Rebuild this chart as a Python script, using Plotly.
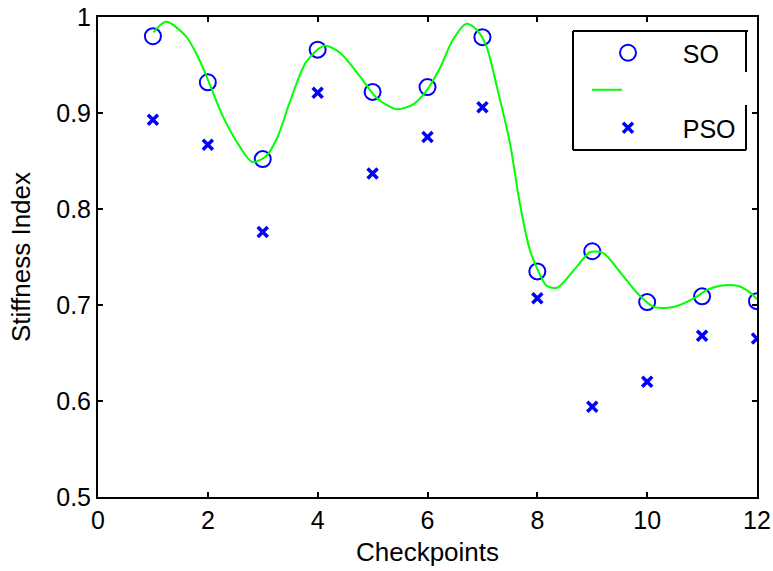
import plotly.graph_objects as go

# ---- data ----
checkpoints = [1, 2, 3, 4, 5, 6, 7, 8, 9, 10, 11, 12]
so_values = [0.980, 0.932, 0.852, 0.966, 0.922, 0.927, 0.979, 0.735, 0.756, 0.703, 0.709, 0.704]
pso_values = [0.893, 0.867, 0.776, 0.921, 0.837, 0.875, 0.906, 0.707, 0.594, 0.620, 0.668, 0.665]

curve_x = [1.01, 1.24, 1.6, 1.84, 1.97, 2.27, 2.57, 2.81, 3.06, 3.27, 3.49, 3.79, 4.12, 4.40,
           4.76, 5.07, 5.43, 5.74, 5.98, 6.22, 6.47, 6.71, 6.89, 7.07, 7.26, 7.5, 7.68, 7.86,
           8.02, 8.17, 8.36, 8.72, 8.96, 9.20, 9.51, 9.81, 10.12, 10.48, 10.85, 11.1, 11.33,
           11.64, 11.85, 12.0]
curve_y = [0.984, 0.995, 0.980, 0.956, 0.939, 0.897, 0.866, 0.849, 0.855, 0.875, 0.911, 0.953,
           0.970, 0.963, 0.939, 0.916, 0.904, 0.909, 0.923, 0.946, 0.977, 0.993, 0.987, 0.970,
           0.928, 0.869, 0.806, 0.758, 0.735, 0.720, 0.718, 0.740, 0.755, 0.754, 0.734, 0.713,
           0.698, 0.698, 0.707, 0.716, 0.720, 0.720, 0.714, 0.706]

x_ticks = [0, 2, 4, 6, 8, 10, 12]
y_ticks = [0.5, 0.6, 0.7, 0.8, 0.9, 1.0]
y_tick_text = ["0.5", "0.6", "0.7", "0.8", "0.9", "1"]

BLUE = "#0000FF"
GREEN = "#00FF00"
FONT = "Arial, 'Liberation Sans', Helvetica, sans-serif"

fig = go.Figure()
fig.add_trace(go.Scatter(
    x=checkpoints, y=so_values, mode="markers", name="\u00a0\u00a0\u00a0\u00a0\u00a0SO", legend="legend",
    marker=dict(symbol="circle-open", size=16, color=BLUE, line=dict(width=2, color=BLUE)),
))
fig.add_trace(go.Scatter(
    x=curve_x, y=curve_y, mode="lines", name=" ", legend="legend2",
    line=dict(color=GREEN, width=2, shape="spline", smoothing=0.8),
))
fig.add_trace(go.Scatter(
    x=checkpoints, y=pso_values, mode="markers", name="\u00a0\u00a0\u00a0\u00a0\u00a0PSO", legend="legend3",
    marker=dict(symbol="x-thin-open", size=10, color=BLUE, line=dict(width=3.5, color=BLUE)),
))

W, H = 773, 571
L, R, T, B = 98, 16, 17, 74
pw, ph = W - L - R, H - T - B

def px(xp):
    return (xp - L) / pw

def py(yp):
    return (H - B - yp) / ph

axis_common = dict(
    showline=True, linecolor="black", linewidth=2, mirror="ticks",
    ticks="inside", ticklen=5, tickwidth=2, tickcolor="black",
    showgrid=False, zeroline=False, automargin=False,
    tickfont=dict(family=FONT, size=25, color="black"),
)

leg_common = dict(
    font=dict(family=FONT, size=25, color="black"),
    bgcolor="rgba(0,0,0,0)", borderwidth=0,
    xanchor="left", yanchor="middle",
)

fig.update_layout(
    width=W, height=H,
    margin=dict(l=L, r=R, t=T, b=B),
    paper_bgcolor="white", plot_bgcolor="white",
    font=dict(family=FONT, size=25, color="black"),
    showlegend=True,
    xaxis=dict(range=[0, 12], tickvals=x_ticks,
               title=dict(text="Checkpoints", font=dict(family=FONT, size=26), standoff=10),
               **axis_common),
    yaxis=dict(range=[0.5, 1.0], tickvals=y_ticks, ticktext=y_tick_text,
               title=dict(text="Stiffness Index", font=dict(family=FONT, size=26), standoff=18),
               **axis_common),
    legend=dict(x=px(608), y=py(53), **leg_common),
    legend2=dict(x=px(587), y=py(90), **leg_common),
    legend3=dict(x=px(608), y=py(128), **leg_common),
)

# legend frame (MATLAB-style box)
line_style = dict(color="black", width=2)
frame = [
    (573, 31, 748, 31),
    (573, 31, 573, 150),
    (573, 150, 746, 150),
    (746, 31, 746, 72),
    (746, 105, 746, 150),
]
for x0, y0, x1, y1 in frame:
    fig.add_shape(type="line", xref="paper", yref="paper",
                  x0=px(x0), y0=py(y0), x1=px(x1), y1=py(y1), line=line_style)

fig.write_html("out.html")
